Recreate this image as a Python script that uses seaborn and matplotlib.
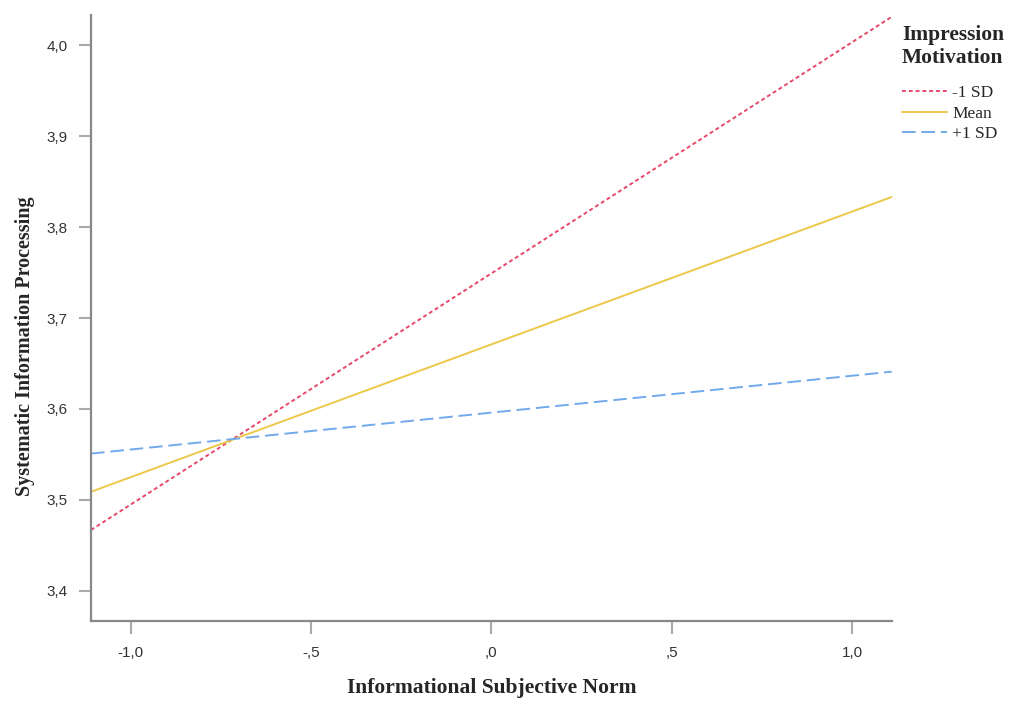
import pandas as pd
import numpy as np
import matplotlib.pyplot as plt
import seaborn as sns

x_vals = [-1.11, 1.11]
low_sd = [3.467, 4.031]
mean_vals = [3.509, 3.833]
high_sd = [3.551, 3.641]
groups = ['-1 SD', 'Mean', '+1 SD']
x_ticks = [-1.0, -0.5, 0.0, 0.5, 1.0]
x_labels = ['-1,0', '-,5', ',0', ',5', '1,0']
y_ticks = [3.4, 3.5, 3.6, 3.7, 3.8, 3.9, 4.0]
y_labels = ['3,4', '3,5', '3,6', '3,7', '3,8', '3,9', '4,0']

df = pd.DataFrame({
    'x': x_vals * 3,
    'y': low_sd + mean_vals + high_sd,
    'group': [g for g in groups for _ in x_vals],
})

sns.set_style('white')
plt.rcParams['font.family'] = ['Liberation Sans', 'DejaVu Sans']

colors = {'-1 SD': '#e8476a', 'Mean': '#ecc84a', '+1 SD': '#72a9ec'}
dashes = {'-1 SD': (2, 1.5), 'Mean': '', '+1 SD': (7, 3)}

fig = plt.figure(figsize=(10.11, 7.02), dpi=100)
ax = fig.add_axes([0.090, 0.1154, 0.792, 0.8632])
sns.lineplot(data=df, x='x', y='y', hue='group', style='group', palette=colors,
             dashes=dashes, linewidth=1.4, ax=ax, legend=True)

ax.set_xlim(-1.11, 1.11)
ax.set_ylim(3.367, 4.033)
ax.set_xticks(x_ticks)
ax.set_xticklabels(x_labels)
ax.set_yticks(y_ticks)
ax.set_yticklabels(y_labels)
ax.tick_params(axis='both', bottom=True, left=True, direction='out', length=9,
               width=1.5, color='#aaaaaa', labelsize=11, labelcolor='#333333', pad=8)
ax.tick_params(axis='x', pad=9)
for s in ['top', 'right']:
    ax.spines[s].set_visible(False)
for s in ['left', 'bottom']:
    ax.spines[s].set_color('#888888')
    ax.spines[s].set_linewidth(1.6)

ax.set_xlabel('Informational Subjective Norm', family='Liberation Serif',
              fontweight='bold', fontsize=15.5)
ax.xaxis.set_label_coords(0.5, -0.094)
ax.set_ylabel('Systematic Information Processing', family='Liberation Serif',
              fontweight='bold', fontsize=14.5)
ax.yaxis.set_label_coords(-0.07, 0.454)

leg = ax.legend(title='Impression\nMotivation', loc='upper left',
                bbox_to_anchor=(1.0, 1.0), frameon=False,
                prop={'family': 'Liberation Serif', 'size': 12.5},
                handlelength=2.6, handletextpad=0.3, labelspacing=0.25,
                borderaxespad=0.2)
leg.get_title().set_fontfamily('Liberation Serif')
leg.get_title().set_fontweight('bold')
leg.get_title().set_fontsize(15.5)
leg._legend_box.align = 'left'
leg._legend_box.sep = 12

fig.savefig('out.png', dpi=100)
